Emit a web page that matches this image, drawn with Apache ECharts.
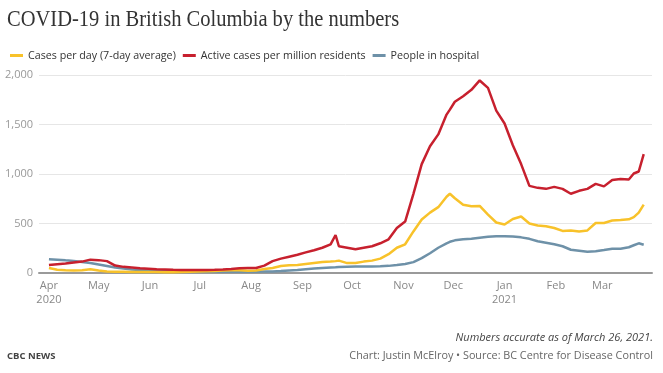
<!DOCTYPE html>
<html>
<head>
<meta charset="utf-8">
<script src="https://cdn.jsdelivr.net/npm/echarts@6/dist/echarts.min.js"></script>
<style>html,body{margin:0;padding:0;background:#fff}#c{width:663px;height:373px}</style>
</head>
<body>
<div id="c"></div>
<script>
const dates = ['2020-04-01','2020-04-06','2020-04-11','2020-04-16','2020-04-21','2020-04-26','2020-05-01','2020-05-06','2020-05-11','2020-05-16','2020-05-21','2020-05-26','2020-05-31','2020-06-05','2020-06-10','2020-06-15','2020-06-20','2020-06-25','2020-06-30','2020-07-05','2020-07-10','2020-07-15','2020-07-20','2020-07-25','2020-07-30','2020-08-04','2020-08-09','2020-08-14','2020-08-19','2020-08-24','2020-08-29','2020-09-03','2020-09-08','2020-09-13','2020-09-18','2020-09-21','2020-09-23','2020-09-28','2020-10-03','2020-10-08','2020-10-13','2020-10-18','2020-10-23','2020-10-28','2020-11-02','2020-11-07','2020-11-12','2020-11-17','2020-11-22','2020-11-27','2020-11-29','2020-12-02','2020-12-07','2020-12-12','2020-12-17','2020-12-22','2020-12-27','2021-01-01','2021-01-06','2021-01-11','2021-01-16','2021-01-21','2021-01-26','2021-01-31','2021-02-05','2021-02-10','2021-02-15','2021-02-20','2021-02-25','2021-03-02','2021-03-07','2021-03-12','2021-03-17','2021-03-20','2021-03-23','2021-03-26'];
const activePerMillion = [80,88,95,105,115,135,130,120,75,62,55,48,43,38,35,32,30,30,30,30,32,35,40,48,50,50,75,120,145,165,185,208,230,255,290,384,270,255,240,255,270,300,340,455,520,800,1100,1280,1400,1600,1650,1730,1785,1850,1945,1870,1640,1510,1290,1100,880,860,850,870,850,800,830,850,900,875,940,950,945,1005,1025,1200];
const casesPerDay = [50,32,28,25,28,37,25,15,12,12,10,10,10,10,8,8,10,12,15,18,20,25,28,28,22,25,40,50,70,78,80,90,100,110,115,120,125,100,100,115,125,145,190,255,290,420,540,610,665,770,800,755,690,675,677,590,510,490,545,570,500,480,472,455,425,430,420,430,505,505,530,535,542,565,610,690];
const inHospital = [140,135,128,122,112,100,85,70,55,45,35,30,25,22,20,18,15,14,13,12,12,12,12,12,12,12,14,16,20,25,30,38,45,50,55,57,60,64,65,65,66,68,72,80,90,110,150,200,255,300,315,330,340,345,355,365,370,372,368,360,345,320,305,290,270,235,225,215,220,232,245,245,260,280,300,285];
const monthTicks = ['2020-04-01','2020-05-01','2020-06-01','2020-07-01','2020-08-01','2020-09-01','2020-10-01','2020-11-01','2020-12-01','2021-01-01','2021-02-01','2021-03-01'];
const monthNames = ['Jan','Feb','Mar','Apr','May','Jun','Jul','Aug','Sep','Oct','Nov','Dec'];
const seriesNames = ['Cases per day (7-day average)','Active cases per million residents','People in hospital'];
const colors = ['#f8c22a','#c7202e','#6e91a8'];

function toTs(s){const p=s.split('-').map(Number);return new Date(p[0],p[1]-1,p[2]).getTime();}
function pairs(vals){return dates.map((d,i)=>[toTs(d),vals[i]]);}

const chart = echarts.init(document.getElementById('c'), null, {renderer:'canvas'});
const sans = '"Open Sans", sans-serif';
chart.setOption({
  animation:false,
  color: colors,
  grid:{left:39,right:11,top:75,bottom:100,containLabel:false},
  legend:{left:5,top:45,icon:'rect',itemWidth:13,itemHeight:3,itemGap:7,
    textStyle:{fontFamily:sans,fontSize:10.7,color:'#333'},
    data:seriesNames},
  xAxis:{type:'value',min:toTs('2020-03-26'),max:toTs('2021-03-31'),
    axisLine:{show:true,lineStyle:{color:'#9a9a9a',width:2}},
    axisTick:{show:false},
    splitLine:{show:false},
    axisLabel:{customValues:monthTicks.map(toTs),fontFamily:sans,fontSize:11,color:'#888',lineHeight:14,margin:6,
      formatter:function(v){const d=new Date(v);const m=monthNames[d.getMonth()];
        if(d.getMonth()===0||(d.getMonth()===3&&d.getFullYear()===2020))return m+'\n'+d.getFullYear();return m;}}
  },
  yAxis:{type:'value',min:0,max:2000,interval:500,
    axisLine:{show:false},axisTick:{show:false},
    splitLine:{lineStyle:{color:'#e6e6e6',width:1}},
    axisLabel:{fontFamily:sans,fontSize:11,color:'#999',margin:6,formatter:v=>v.toLocaleString('en-US')}
  },
  series:[
    {name:seriesNames[0],type:'line',data:pairs(casesPerDay),showSymbol:false,lineStyle:{width:2.5,color:colors[0]},z:3},
    {name:seriesNames[1],type:'line',data:pairs(activePerMillion),showSymbol:false,lineStyle:{width:2.5,color:colors[1]},z:4},
    {name:seriesNames[2],type:'line',data:pairs(inHospital),showSymbol:false,lineStyle:{width:2.5,color:colors[2]},z:2}
  ],
  graphic:[
    {type:'text',x:7,y:8,scaleX:0.855,style:{text:'COVID-19 in British Columbia by the numbers',font:'24px "Liberation Serif", serif',fill:'#333'}},
    {type:'text',x:653,y:338,style:{text:'Numbers accurate as of March 26, 2021.',font:'italic 11px '+sans,fill:'#444',align:'right',verticalAlign:'middle'}},
    {type:'text',x:653,y:356,style:{text:'Chart: Justin McElroy \u2022 Source: BC Centre for Disease Control',font:'10.8px '+sans,fill:'#666',align:'right',verticalAlign:'middle'}},
    {type:'text',x:7,y:356,style:{text:'CBC NEWS',font:'bold 9.5px '+sans,fill:'#444',verticalAlign:'middle'}}
  ]
});
</script>
</body>
</html>
